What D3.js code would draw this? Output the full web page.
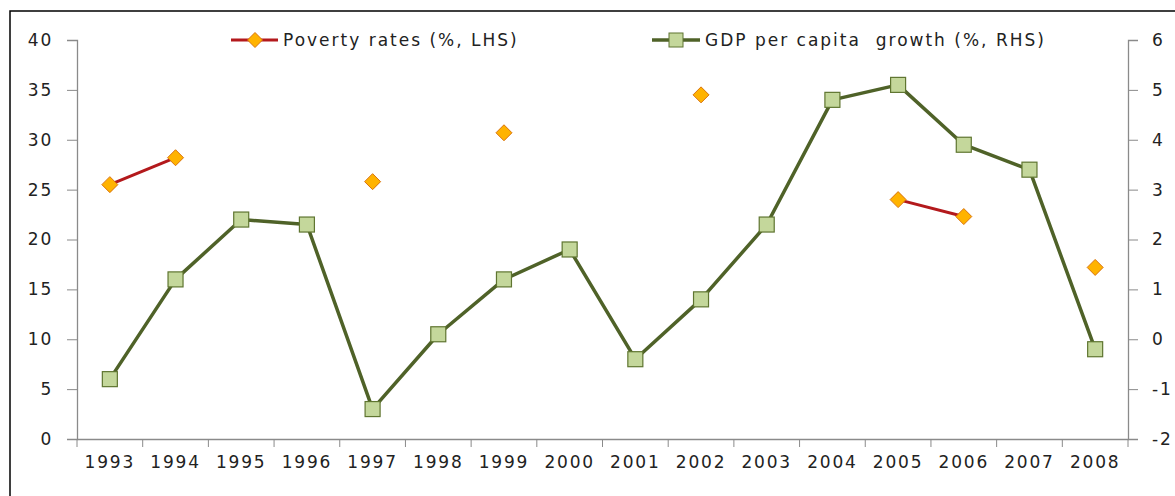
<!DOCTYPE html>
<html lang="en">
<head>
<meta charset="utf-8">
<title>Poverty and GDP growth</title>
<script src="https://d3js.org/d3.v7.min.js"></script>
<style>
  body { margin: 0; background: #fff; }
  text { font-family: "DejaVu Sans", Verdana, sans-serif; fill: #222; }
</style>
</head>
<body>
<svg id="chart" width="1175" height="496"></svg>
<script>
var years = ["1993","1994","1995","1996","1997","1998","1999","2000",
             "2001","2002","2003","2004","2005","2006","2007","2008"];
var poverty = [25.5, 28.2, null, null, 25.8, null, 30.7, null,
               null, 34.5, null, null, 24.0, 22.3, null, 17.2];
var gdpGrowth = [-0.8, 1.2, 2.4, 2.3, -1.4, 0.1, 1.2, 1.8,
                 -0.4, 0.8, 2.3, 4.8, 5.1, 3.9, 3.4, -0.2];
var leftTicks = [0, 5, 10, 15, 20, 25, 30, 35, 40];
var rightTicks = [-2, -1, 0, 1, 2, 3, 4, 5, 6];

var svg = d3.select("#chart");
var pLeft = 77, pRight = 1128, pTop = 40, pBottom = 439;
var fontSize = 17, spacing = 1.8;

// outer frame (cut off at right/bottom)
svg.append("path")
    .attr("d", "M10,496 L10,11 L1175,11")
    .attr("fill", "none").attr("stroke", "#000").attr("stroke-width", 1.5);

var x = d3.scaleBand().domain(years).range([pLeft, pRight]);
var yL = d3.scaleLinear().domain([0, 40]).range([pBottom, pTop]);
var yR = d3.scaleLinear().domain([-2, 6]).range([pBottom, pTop]);
var cx = function(i) { return x(years[i]) + x.bandwidth() / 2; };

var axisColor = "#8a8a8a";

// left axis
var gl = svg.append("g").attr("transform", "translate(" + pLeft + ",0)")
    .call(d3.axisLeft(yL).tickValues(leftTicks).tickSize(10).tickPadding(14));
// right axis, plain hyphen for negatives
var gr = svg.append("g").attr("transform", "translate(" + pRight + ",0)")
    .call(d3.axisRight(yR).tickValues(rightTicks).tickSize(10).tickPadding(14)
          .tickFormat(function(d) { return String(d); }));
// x axis with ticks on category boundaries
var gx = svg.append("g").attr("transform", "translate(0," + pBottom + ")")
    .call(d3.axisBottom(x).tickSize(0).tickPadding(17));
gx.selectAll(".bound")
    .data(d3.range(years.length + 1))
    .join("line")
    .attr("class", "bound")
    .attr("x1", function(i) { return pLeft + i * x.bandwidth(); })
    .attr("x2", function(i) { return pLeft + i * x.bandwidth(); })
    .attr("y1", 0).attr("y2", 8)
    .attr("stroke", axisColor);

[gl, gr, gx].forEach(function(g) {
  g.selectAll(".domain").attr("stroke", axisColor).attr("stroke-width", 1.3);
  g.selectAll(".tick line").attr("stroke", axisColor);
  g.selectAll("text").attr("font-size", fontSize).attr("letter-spacing", spacing)
      .attr("fill", "#222").style("font-family", "DejaVu Sans, sans-serif");
});

// GDP line
var gdpLine = d3.line()
    .x(function(d, i) { return cx(i); })
    .y(function(d) { return yR(d); });
svg.append("path").datum(gdpGrowth)
    .attr("d", gdpLine)
    .attr("fill", "none").attr("stroke", "#4f6228").attr("stroke-width", 3.5)
    .attr("stroke-linejoin", "round");
var sq = 15;
svg.selectAll(".gdp").data(gdpGrowth).join("rect")
    .attr("class", "gdp")
    .attr("x", function(d, i) { return cx(i) - sq / 2; })
    .attr("y", function(d) { return yR(d) - sq / 2; })
    .attr("width", sq).attr("height", sq)
    .attr("fill", "#c4d79b").attr("stroke", "#5f7530").attr("stroke-width", 1.2);

// Poverty line (gaps for missing years)
var povLine = d3.line()
    .defined(function(d) { return d != null; })
    .x(function(d, i) { return cx(i); })
    .y(function(d) { return yL(d); });
svg.append("path").datum(poverty)
    .attr("d", povLine)
    .attr("fill", "none").attr("stroke", "#b3191c").attr("stroke-width", 3);
function diamondPath(cxp, cyp, r) {
  return "M" + cxp + "," + (cyp - r) + "L" + (cxp + r) + "," + cyp +
         "L" + cxp + "," + (cyp + r) + "L" + (cxp - r) + "," + cyp + "Z";
}
svg.selectAll(".pov").data(poverty.map(function(v, i) { return {v: v, i: i}; })
        .filter(function(d) { return d.v != null; }))
    .join("path")
    .attr("class", "pov")
    .attr("d", function(d) { return diamondPath(cx(d.i), yL(d.v), 8); })
    .attr("fill", "#ffb300").attr("stroke", "#d9730d").attr("stroke-width", 1);

// legend
var lg = svg.append("g");
lg.append("line").attr("x1", 231).attr("x2", 278).attr("y1", 40).attr("y2", 40)
    .attr("stroke", "#b3191c").attr("stroke-width", 3);
lg.append("path").attr("d", diamondPath(255, 40, 7.5))
    .attr("fill", "#ffb300").attr("stroke", "#d9730d");
lg.append("text").attr("x", 283).attr("y", 46).attr("font-size", fontSize)
    .attr("letter-spacing", 2).text("Poverty rates (%, LHS)");
lg.append("line").attr("x1", 652).attr("x2", 700).attr("y1", 40).attr("y2", 40)
    .attr("stroke", "#4f6228").attr("stroke-width", 3.5);
lg.append("rect").attr("x", 669).attr("y", 33).attr("width", 14).attr("height", 14)
    .attr("fill", "#c4d79b").attr("stroke", "#5f7530");
lg.append("text").attr("x", 705).attr("y", 46).attr("font-size", fontSize)
    .attr("letter-spacing", 2).attr("xml:space", "preserve")
    .text("GDP per capita  growth (%, RHS)");
</script>
</body>
</html>
